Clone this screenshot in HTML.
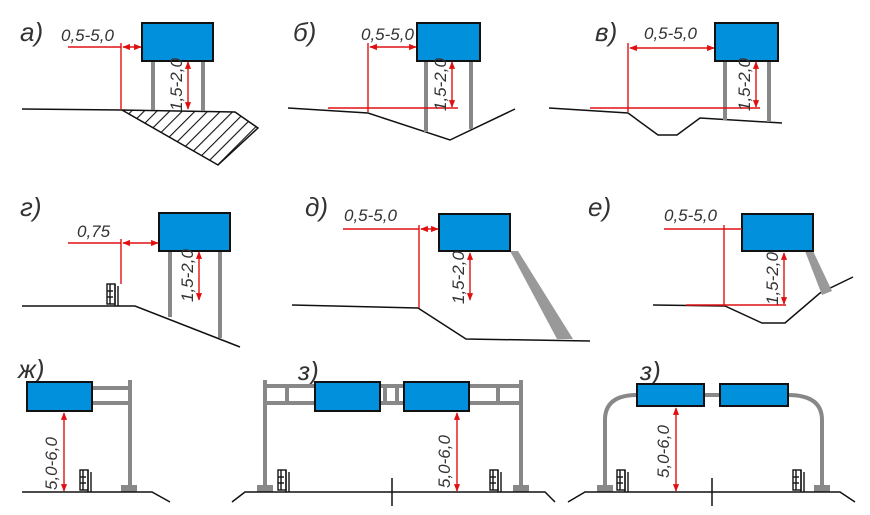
<!DOCTYPE html>
<html><head><meta charset="utf-8"><style>
html,body{margin:0;padding:0;background:#fff}
svg{display:block}
text{font-family:"Liberation Sans",sans-serif;font-style:italic;fill:#333}
.lb{font-size:26px}
.dm{font-size:17px}
</style></head><body>
<svg width="870" height="515" viewBox="0 0 870 515" xmlns="http://www.w3.org/2000/svg">
<defs>
<marker id="a" viewBox="0 0 10 10" refX="9" refY="5" markerWidth="5.5" markerHeight="5.5" orient="auto-start-reverse"><path d="M0,1 L10,5 L0,9 z" fill="#e01010"/></marker>
<pattern id="h" width="9" height="9" patternUnits="userSpaceOnUse" patternTransform="rotate(45)"><rect width="9" height="9" fill="#fff"/><line x1="0" y1="0" x2="0" y2="9" stroke="#111" stroke-width="2.2"/></pattern>
<g id="fence" fill="none" stroke="#111" stroke-width="1.4"><rect x="0" y="0" width="8" height="20" fill="#fff"/><line x1="8" y1="0" x2="8" y2="22"/><line x1="11" y1="2" x2="11" y2="22"/><line x1="3" y1="0" x2="3" y2="20"/><line x1="0" y1="7" x2="6" y2="7"/><line x1="0" y1="13" x2="6" y2="13"/></g>
</defs>
<g stroke-linecap="butt">
<!-- а -->
<text class="lb" x="20" y="41">а)</text>
<polygon points="122,110 235,112 258,128 218,165" fill="url(#h)" stroke="#111" stroke-width="1.5"/>
<line x1="22" y1="109" x2="122" y2="110" stroke="#111" stroke-width="1.5"/>
<g stroke="#888" stroke-width="4"><line x1="153" y1="61" x2="153" y2="110"/><line x1="203" y1="61" x2="203" y2="111"/></g>
<rect x="142" y="23" width="71" height="38" fill="#0090dc" stroke="#111" stroke-width="2"/>
<g stroke="#e01010" stroke-width="1.4" fill="none">
<line x1="68" y1="47" x2="121" y2="47"/><line x1="121" y1="43" x2="121" y2="110"/>
<line x1="123" y1="47" x2="141" y2="47" marker-start="url(#a)" marker-end="url(#a)"/>
<line x1="188" y1="62" x2="188" y2="109" marker-start="url(#a)" marker-end="url(#a)"/></g>
<text class="dm" x="61" y="41">0,5-5,0</text>
<text class="dm" transform="translate(182,111) rotate(-90)">1,5-2,0</text>

<!-- б -->
<text class="lb" x="293" y="41">б)</text>
<polyline points="288,108 368,113 450,140 515,109" fill="none" stroke="#111" stroke-width="1.5"/>
<g stroke="#888" stroke-width="4"><line x1="426" y1="61" x2="426" y2="132"/><line x1="471" y1="61" x2="471" y2="129"/></g>
<rect x="417" y="23" width="63" height="38" fill="#0090dc" stroke="#111" stroke-width="2"/>
<g stroke="#e01010" stroke-width="1.4" fill="none">
<line x1="328" y1="108" x2="458" y2="108"/><line x1="368" y1="43" x2="368" y2="112"/>
<line x1="370" y1="47" x2="416" y2="47" marker-start="url(#a)" marker-end="url(#a)"/>
<line x1="452" y1="62" x2="452" y2="107" marker-start="url(#a)" marker-end="url(#a)"/></g>
<text class="dm" x="361" y="40">0,5-5,0</text>
<text class="dm" transform="translate(446,111) rotate(-90)">1,5-2,0</text>

<!-- в -->
<text class="lb" x="595" y="41">в)</text>
<polyline points="549,108 628,113 658,135 677,135 700,118 782,123" fill="none" stroke="#111" stroke-width="1.5"/>
<g stroke="#888" stroke-width="4"><line x1="725" y1="61" x2="725" y2="120"/><line x1="769" y1="61" x2="769" y2="122"/></g>
<rect x="715" y="23" width="63" height="38" fill="#0090dc" stroke="#111" stroke-width="2"/>
<g stroke="#e01010" stroke-width="1.4" fill="none">
<line x1="590" y1="108" x2="760" y2="108"/><line x1="628" y1="43" x2="628" y2="112"/>
<line x1="630" y1="48" x2="714" y2="48" marker-start="url(#a)" marker-end="url(#a)"/>
<line x1="756" y1="62" x2="756" y2="107" marker-start="url(#a)" marker-end="url(#a)"/></g>
<text class="dm" x="644" y="39">0,5-5,0</text>
<text class="dm" transform="translate(750,111) rotate(-90)">1,5-2,0</text>

<!-- г -->
<text class="lb" x="20" y="216">г)</text>
<polyline points="22,306 135,306 240,347" fill="none" stroke="#111" stroke-width="1.5"/>
<use href="#fence" x="107" y="284"/>
<g stroke="#888" stroke-width="4"><line x1="170" y1="251" x2="170" y2="317"/><line x1="220" y1="251" x2="220" y2="338"/></g>
<rect x="159" y="213" width="71" height="38" fill="#0090dc" stroke="#111" stroke-width="2"/>
<g stroke="#e01010" stroke-width="1.4" fill="none">
<line x1="68" y1="243" x2="121" y2="243"/><line x1="121" y1="239" x2="121" y2="284"/>
<line x1="123" y1="243" x2="158" y2="243" marker-start="url(#a)" marker-end="url(#a)"/>
<line x1="199" y1="252" x2="199" y2="300" marker-start="url(#a)" marker-end="url(#a)"/></g>
<text class="dm" x="77" y="237">0,75</text>
<text class="dm" transform="translate(193,302) rotate(-90)">1,5-2,0</text>

<!-- д -->
<text class="lb" x="305" y="216">д)</text>
<polyline points="292,305 418,308 466,339 590,341" fill="none" stroke="#111" stroke-width="1.5"/>
<polygon points="510,251 518,251 573,339 557,339" fill="#999"/>
<rect x="439" y="214" width="71" height="37" fill="#0090dc" stroke="#111" stroke-width="2"/>
<g stroke="#e01010" stroke-width="1.4" fill="none">
<line x1="343" y1="229" x2="419" y2="229"/><line x1="419" y1="225" x2="419" y2="308"/>
<line x1="421" y1="229" x2="438" y2="229" marker-start="url(#a)" marker-end="url(#a)"/>
<line x1="470" y1="253" x2="470" y2="300" marker-start="url(#a)" marker-end="url(#a)"/></g>
<text class="dm" x="344" y="221">0,5-5,0</text>
<text class="dm" transform="translate(464,304) rotate(-90)">1,5-2,0</text>

<!-- е -->
<text class="lb" x="588" y="216">е)</text>
<polyline points="653,305 725,306 762,323 785,323 820,293 853,277" fill="none" stroke="#111" stroke-width="1.5"/>
<polygon points="805,251 813,251 832,291 822,295" fill="#999"/>
<rect x="742" y="214" width="71" height="37" fill="#0090dc" stroke="#111" stroke-width="2"/>
<g stroke="#e01010" stroke-width="1.4" fill="none">
<line x1="664" y1="229" x2="742" y2="229"/><line x1="724" y1="225" x2="724" y2="306"/>
<line x1="686" y1="305" x2="786" y2="305"/>
<line x1="784" y1="253" x2="784" y2="304" marker-start="url(#a)" marker-end="url(#a)"/></g>
<text class="dm" x="664" y="221">0,5-5,0</text>
<text class="dm" transform="translate(778,305) rotate(-90)">1,5-2,0</text>

<!-- ж -->
<text class="lb" x="18" y="378">ж)</text>
<g stroke="#888" stroke-width="4" fill="none"><line x1="130" y1="380" x2="130" y2="488"/><line x1="92" y1="388" x2="130" y2="388"/><line x1="92" y1="403" x2="130" y2="403"/></g>
<rect x="121" y="485" width="16" height="7" fill="#888"/>
<polyline points="22,492 152,492 170,502" fill="none" stroke="#111" stroke-width="1.5"/>
<use href="#fence" x="80" y="470"/>
<rect x="27" y="382" width="65" height="29" fill="#0090dc" stroke="#111" stroke-width="2"/>
<line x1="64" y1="413" x2="64" y2="491" stroke="#e01010" stroke-width="1.4" marker-start="url(#a)" marker-end="url(#a)"/>
<text class="dm" transform="translate(57,490) rotate(-90)">5,0-6,0</text>

<!-- з1 -->
<text class="lb" x="298" y="380">з)</text>
<g stroke="#888" stroke-width="4" fill="none"><line x1="265" y1="380" x2="265" y2="488"/><line x1="521" y1="380" x2="521" y2="488"/>
<line x1="265" y1="386" x2="521" y2="386"/><line x1="265" y1="403" x2="521" y2="403"/>
<line x1="287" y1="386" x2="287" y2="403"/><line x1="385" y1="386" x2="385" y2="403"/><line x1="397" y1="386" x2="397" y2="403"/><line x1="498" y1="386" x2="498" y2="403"/></g>
<rect x="257" y="485" width="16" height="7" fill="#888"/><rect x="513" y="485" width="16" height="7" fill="#888"/>
<polyline points="232,502 245,492 545,492 555,502" fill="none" stroke="#111" stroke-width="1.5"/>
<line x1="392" y1="478" x2="392" y2="506" stroke="#111" stroke-width="1.5"/>
<use href="#fence" x="278" y="470"/><use href="#fence" x="490" y="470"/>
<rect x="315" y="382" width="65" height="29" fill="#0090dc" stroke="#111" stroke-width="2"/>
<rect x="404" y="382" width="65" height="29" fill="#0090dc" stroke="#111" stroke-width="2"/>
<line x1="457" y1="413" x2="457" y2="491" stroke="#e01010" stroke-width="1.4" marker-start="url(#a)" marker-end="url(#a)"/>
<text class="dm" transform="translate(450,488) rotate(-90)">5,0-6,0</text>

<!-- з2 -->
<text class="lb" x="640" y="380">з)</text>
<path d="M605,488 L605,420 Q605,395 637,395 L788,395 Q822,395 822,420 L822,488" fill="none" stroke="#888" stroke-width="4"/>
<rect x="597" y="485" width="16" height="7" fill="#888"/><rect x="814" y="485" width="16" height="7" fill="#888"/>
<polyline points="568,502 585,492 840,492 855,502" fill="none" stroke="#111" stroke-width="1.5"/>
<line x1="712" y1="478" x2="712" y2="506" stroke="#111" stroke-width="1.5"/>
<use href="#fence" x="617" y="470"/><use href="#fence" x="793" y="470"/>
<rect x="637" y="384" width="67" height="22" fill="#0090dc" stroke="#111" stroke-width="2"/>
<rect x="720" y="384" width="68" height="22" fill="#0090dc" stroke="#111" stroke-width="2"/>
<line x1="676" y1="408" x2="676" y2="491" stroke="#e01010" stroke-width="1.4" marker-start="url(#a)" marker-end="url(#a)"/>
<text class="dm" transform="translate(669,478) rotate(-90)">5,0-6,0</text>
</g>
</svg>
</body></html>
